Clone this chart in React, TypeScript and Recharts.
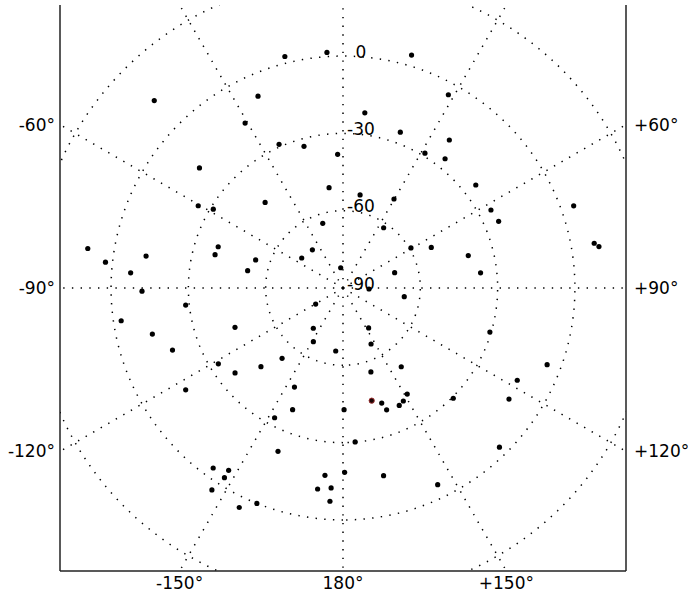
import { ReferenceDot, Scatter, ScatterChart, XAxis, YAxis } from "recharts";

// station positions (longitude / latitude in degrees)
const pointLons = [
  -45.2, -30.7, -50.1, -14.1, -3.9, 16.4, -23.9, 7.1, 20.2, -24.0,
  -15.4, 31.3, -2.3, -7.9, 10.4, 28.6, 35.7, 38.3, 52.2, 70.4,
  -60.4, -58.7, -81.2, -71.7, -75.4, -83.8, -80.8, -85.9, -79.7, -90.9,
  -96.2, -98.4, -110.0, -103.6, -110.0, -121.3, -128.2, -42.3, 29.8, -17.4,
  34.0, -38.7, 59.5, 65.3, -72.2, -54.0, -6.5, 73.5, 92.2, 98.1,
  -120.4, -143.6, 147.3, -151.1, 153.4, -173.4, -139.1, -133.8, 143.5, 161.6,
  -153.9, 62.2, 66.8, 79.9, 80.8, 75.5, 83.7, 106.7, 110.6, 117.9,
  -122.9, -144.2, -147.9, -148.0, -147.0, -154.7, -157.5, -152.2, 179.5, 161.4,
  160.3, 154.4, 151.9, 148.8, 175.5, -158.3, 179.5, -174.5, 167.8, -176.6,
  -172.8, -176.5, -158.2, 154.3, 135.0, 123.8, 135.5,
];
const pointLats = [
  13.2, -15.6, -17.4, 2.6, 1.6, 4.2, -8.6, -21.5, -25.6, -29.0,
  -33.0, -28.8, -38.1, -50.7, -53.3, -4.6, -19.3, -26.1, -24.8, 5.0,
  -25.4, -31.1, 10.2, -39.0, -38.7, 2.7, -12.6, -7.4, -52.4, -12.0,
  -28.6, -3.0, -45.4, -13.9, -19.6, -33.4, -36.7, -45.1, -50.2, -63.7,
  -61.8, -71.0, -59.4, -52.3, -54.4, -70.2, -82.1, -69.1, -79.9, -66.0,
  -77.7, -70.6, -71.6, -66.2, -65.7, -65.4, -53.9, -45.9, -52.0, -55.7,
  -47.2, -25.1, -24.3, 9.0, 10.6, -39.8, -36.3, -30.5, -5.4, -13.5,
  -17.3, -3.9, -6.5, -3.2, 3.4, 4.2, -38.9, -33.1, -42.8, -42.9,
  -39.8, -39.5, -40.3, -41.9, -30.1, -21.8, -18.5, -17.0, -15.5, -12.3,
  -11.4, -7.1, 0.0, -5.3, -29.5, -12.5, -3.4,
];
// the one marker drawn in red
const markedLons = [165.7];
const markedLats = [-44.9];

const parallelLats = [-60, -30, 0, 30];
const meridianLons = [-150, -120, -90, -60, -30, 0, 30, 60, 90, 120, 150, 180];
const parallelLabels = [0, -30, -60, -90];
const bottomLons = [-150, 180, 150];
const leftLons = [-60, -90, -120];
const rightLons = [60, 90, 120];

const EDGE = 109.8;
const RAD = Math.PI / 180;
const FONT = "DejaVu Sans";
const GRID_LINE = { stroke: "#000", strokeWidth: 1.5, strokeDasharray: "1.4 7.3" };
const FRAME = { stroke: "#222", strokeWidth: 1.5 };

// south polar azimuthal equidistant: distance from the pole in degrees
const project = (lon: number, lat: number) => {
  const r = lat + 90;
  return { x: r * Math.sin(lon * RAD), y: r * Math.cos(lon * RAD) };
};

const points = pointLons.map((lon, i) => project(lon, pointLats[i]));
const marked = markedLons.map((lon, i) => project(lon, markedLats[i]));

const ringLons = Array.from({ length: 181 }, (_, i) => -180 + i * 2);
const parallels = parallelLats.map((lat) => ringLons.map((lon) => project(lon, lat)));
const meridians = meridianLons.map((lon) => [project(lon, -90), project(lon, 70)]);

// where each labelled meridian leaves the square frame
const bottomTicks = bottomLons.map((lon) => -EDGE * Math.tan(lon * RAD));
const leftTicks = leftLons.map((lon) => -EDGE / Math.tan(lon * RAD));
const rightTicks = rightLons.map((lon) => EDGE / Math.tan(lon * RAD));

const lonLabel = (lon: number) => (lon === 180 ? "180°" : `${lon > 0 ? "+" : ""}${lon}°`);
const tickStyle = { fontSize: 17, fontFamily: FONT, fill: "#000" };

const dot = (fill: string, stroke?: string) => (p: any) =>
  <circle cx={p.cx} cy={p.cy} r={2.6} fill={fill} stroke={stroke ?? "none"} strokeWidth={1} />;

const App = () => {
  return (
    <div style={{ position: "absolute", left: 0, top: 0 }}>
      <ScatterChart width={688} height={599} margin={{ top: 5, right: 0, bottom: 0, left: 0 }}>
        <XAxis
          xAxisId="b"
          type="number"
          dataKey="x"
          domain={[-EDGE, EDGE]}
          allowDataOverflow
          ticks={bottomTicks}
          interval={0}
          tickFormatter={(_v: number, i: number) => lonLabel(bottomLons[i])}
          tickLine={false}
          tickSize={4}
          tickMargin={2}
          height={28}
          axisLine={FRAME}
          tick={tickStyle}
        />
        <XAxis
          xAxisId="t"
          orientation="top"
          type="number"
          dataKey="x"
          domain={[-EDGE, EDGE]}
          allowDataOverflow
          height={0}
          tick={false}
          tickLine={false}
          axisLine={FRAME}
        />
        <YAxis
          yAxisId="l"
          type="number"
          dataKey="y"
          domain={[-EDGE, EDGE]}
          allowDataOverflow
          ticks={leftTicks}
          interval={0}
          tickFormatter={(_v: number, i: number) => lonLabel(leftLons[i])}
          tickLine={false}
          tickSize={3}
          tickMargin={2}
          width={60}
          axisLine={FRAME}
          tick={tickStyle}
        />
        <YAxis
          yAxisId="r"
          orientation="right"
          type="number"
          dataKey="y"
          domain={[-EDGE, EDGE]}
          allowDataOverflow
          ticks={rightTicks}
          interval={0}
          tickFormatter={(_v: number, i: number) => lonLabel(rightLons[i])}
          tickLine={false}
          tickSize={6}
          tickMargin={2}
          width={62}
          axisLine={FRAME}
          tick={tickStyle}
        />
        {parallels.map((ring, i) => (
          <Scatter key={`p${i}`} xAxisId="t" yAxisId="r" data={ring} line={GRID_LINE} shape={() => <g />} isAnimationActive={false} />
        ))}
        {meridians.map((seg, i) => (
          <Scatter key={`m${i}`} xAxisId="b" yAxisId="l" data={seg} line={GRID_LINE} shape={() => <g />} isAnimationActive={false} />
        ))}
        {parallelLabels.map((lat) => (
          <ReferenceDot
            key={`l${lat}`}
            xAxisId="b"
            yAxisId="l"
            x={0}
            y={lat + 90}
            r={0}
            shape={(p: any) => (
              <text x={p.cx + 18} y={p.cy + 1.5} textAnchor="middle" fontSize={17} fontFamily={FONT} fill="#000">
                {lat}
              </text>
            )}
          />
        ))}
        <Scatter xAxisId="b" yAxisId="l" data={points} shape={dot("#000")} isAnimationActive={false} />
        <Scatter xAxisId="b" yAxisId="l" data={marked} shape={dot("#1a0505", "#9a2a2a")} isAnimationActive={false} />
      </ScatterChart>
    </div>
  );
};

export default App;
